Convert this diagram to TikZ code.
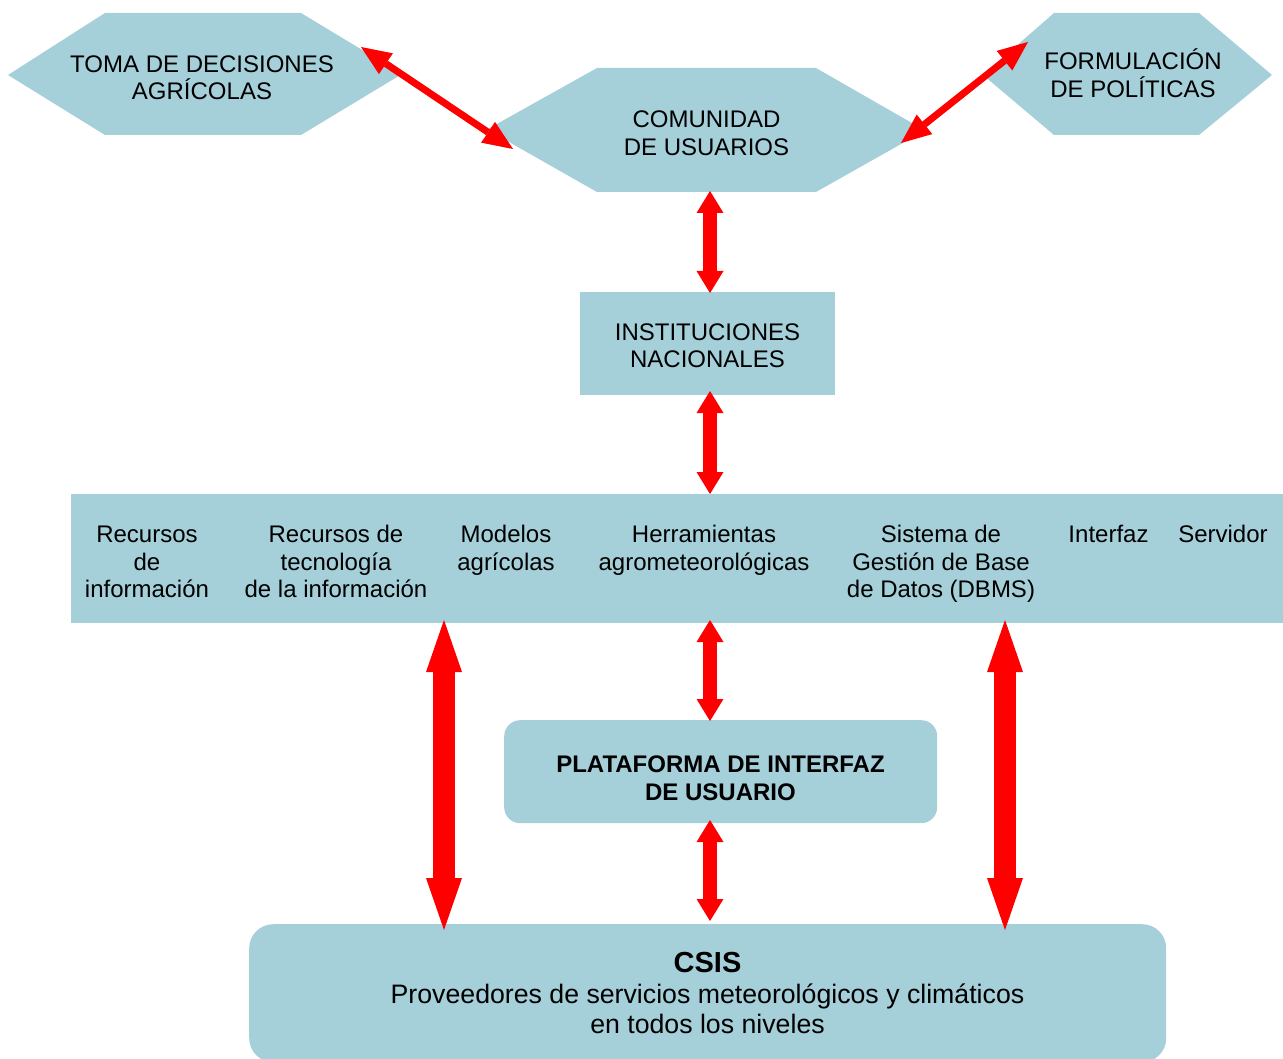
\documentclass[tikz,border=0pt]{standalone}
\usepackage{fontspec}
\setmainfont{Liberation Sans}
\usetikzlibrary{arrows.meta}
\definecolor{boxblue}{HTML}{A5CFD9}
\tikzset{
  x=1pt,y=-1pt,
  hexa/.style={fill=boxblue,draw=none},
  plainbox/.style={fill=boxblue,draw=none,inner sep=0pt,anchor=north west},
  softbox/.style={plainbox,rounded corners=16pt},
  softboxb/.style={plainbox,rounded corners=24pt},
  lbl/.style={align=center,inner sep=0pt,font=\fontsize{24}{27.5}\selectfont,text=black},
  lblb/.style={lbl,font=\fontsize{24}{28}\selectfont\bfseries},
  lblc/.style={lbl,font=\fontsize{26.7}{30}\selectfont},
  dbl/.style={draw=red,line width=14pt,{Triangle[length=22pt,width=27pt,fill=red,line width=0pt]}-{Triangle[length=22pt,width=27pt,fill=red,line width=0pt]}},
  dblthick/.style={draw=red,line width=22pt,{Triangle[length=52pt,width=36pt,fill=red,line width=0pt]}-{Triangle[length=52pt,width=36pt,fill=red,line width=0pt]}},
  dblthin/.style={draw=red,line width=7pt,{Triangle[length=30pt,width=25pt,fill=red,line width=0pt]}-{Triangle[length=30pt,width=25pt,fill=red,line width=0pt]}},
}
\begin{document}
\begin{tikzpicture}
\useasboundingbox (0,0) rectangle (1283,1059);
\clip (0,0) rectangle (1283,1059);
% hexagons
\fill[hexa] (8,75)--(105,13)--(301,13)--(402,74)--(301,135)--(105,135)--cycle;
\fill[hexa] (487,129.5)--(597,68)--(816,68)--(925,130.5)--(816,192)--(597,192)--cycle;
\fill[hexa] (983,75)--(1054,13)--(1199,13)--(1272,75)--(1199,135)--(1054,135)--cycle;
\node[lbl] (toma) at (202,77.5) {TOMA DE DECISIONES\\AGRÍCOLAS};
\node[lbl] (comu) at (706.5,133) {COMUNIDAD\\DE USUARIOS};
\node[lbl] (form) at (1133,73) {FORMULACIÓN\\DE POLÍTICAS};
% boxes
\node[plainbox,minimum width=255pt,minimum height=103pt] (inst) at (580,292) {};
\node[lbl] (instl) at (707.5,345.5) {INSTITUCIONES\\NACIONALES};
\node[plainbox,minimum width=1212pt,minimum height=129pt] (band) at (71,494) {};
\node[lbl,anchor=north] (r1) at (147,526) {Recursos\\de\\información};
\node[lbl,anchor=north] (r2) at (336,525) {Recursos de\\tecnología\\de la información};
\node[lbl,anchor=north] (r3) at (506,525) {Modelos\\agrícolas};
\node[lbl,anchor=north] (r4) at (704,525) {Herramientas\\agrometeorológicas};
\node[lbl,anchor=north] (r5) at (941,525) {Sistema de\\Gestión de Base\\de Datos (DBMS)};
\node[lbl,anchor=north] (r6) at (1108.5,525) {Interfaz};
\node[lbl,anchor=north] (r7) at (1223,525) {Servidor};
\node[softbox,minimum width=433pt,minimum height=103pt] (plat) at (504,720) {};
\node[lblb] (platl) at (720.5,778) {PLATAFORMA DE INTERFAZ\\DE USUARIO};
\node[softboxb,minimum width=917pt,minimum height=138pt] (csis) at (249,924) {};
\node[lbl,font=\fontsize{29}{30}\selectfont\bfseries,anchor=base] (csist) at (707.5,972) {CSIS};
\node[lblc,anchor=base] (csisa) at (707.5,1003) {Proveedores de servicios meteorológicos y climáticos};
\node[lblc,anchor=base] (csisb) at (707.5,1033) {en todos los niveles};
% arrow ends
\coordinate (a1) at (361,47);   \coordinate (a2) at (513,149);
\coordinate (b1) at (1028,42);  \coordinate (b2) at (901,143);
\coordinate (c1) at (710,191);  \coordinate (c2) at (710,293);
\coordinate (d1) at (710,391);  \coordinate (d2) at (710,494);
\coordinate (e1) at (710,620);  \coordinate (e2) at (710,721);
\coordinate (f1) at (710,820);  \coordinate (f2) at (710,921);
\coordinate (g1) at (444,620);  \coordinate (g2) at (444,930);
\coordinate (h1) at (1005,620); \coordinate (h2) at (1005,930);
\draw[dblthin] (a1)--(a2);
\draw[dblthin] (b1)--(b2);
\draw[dbl] (c1)--(c2);
\draw[dbl] (d1)--(d2);
\draw[dbl] (e1)--(e2);
\draw[dbl] (f1)--(f2);
\draw[dblthick] (g1)--(g2);
\draw[dblthick] (h1)--(h2);
\end{tikzpicture}
\end{document}
